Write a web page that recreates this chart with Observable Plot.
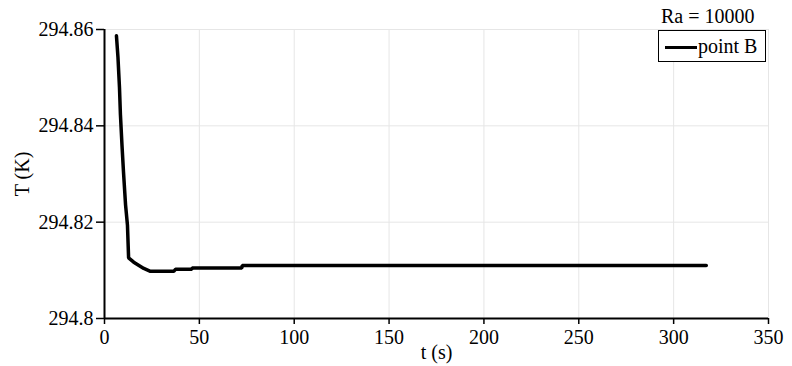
<!DOCTYPE html>
<html>
<head>
<meta charset="utf-8">
<script src="https://cdn.jsdelivr.net/npm/d3@7"></script>
<script src="https://cdn.jsdelivr.net/npm/@observablehq/plot@0.6"></script>
</head>
<body style="margin:0;padding:0;background:#fff;font-family:serif">
<div id="wrap" style="position:relative;width:792px;height:366px;font-family:serif">
  <div id="title" style="position:absolute;left:661px;top:4px;font-size:20px;line-height:24px;color:#000;font-family:'Times New Roman';z-index:2">Ra = 10000</div>
  <div id="legend" style="position:absolute;left:658px;top:30px;width:106px;height:30px;border:1.5px solid #000;background:#fff;z-index:2">
    <div style="position:absolute;left:6px;top:15px;width:32px;height:3px;background:#000"></div>
    <div id="lb" style="position:absolute;left:39px;top:3px;font-size:20px;line-height:24px;font-family:'Times New Roman';white-space:nowrap">point B</div>
  </div>
</div>
<script>
const seriesName = "point B";
const chartTitle = "Ra = 10000";
const tValues = [6.3, 7.1, 7.9, 8.4, 9.2, 10.0, 11.1, 12.1, 12.7, 15.4, 20.7, 24.2, 36.5, 37.4, 46.0, 46.2, 72.4, 72.6, 317.2];
const TValues = [294.8587, 294.8542, 294.8479, 294.8423, 294.8361, 294.8305, 294.8236, 294.8194, 294.8126, 294.8117, 294.8104, 294.8098, 294.8098, 294.8102, 294.8102, 294.8105, 294.8105, 294.8110, 294.8110];
const xTicks = [0, 50, 100, 150, 200, 250, 300, 350];
const yTicks = [294.8, 294.82, 294.84, 294.86];

const FONT = "Times New Roman";
const data = tValues.map((t, i) => ({t, T: TValues[i]}));

document.getElementById("title").textContent = chartTitle;
document.getElementById("lb").textContent = seriesName;

const chart = Plot.plot({
  width: 792,
  height: 366,
  marginLeft: 104,
  marginRight: 24,
  marginTop: 29,
  marginBottom: 48,
  style: {fontFamily: FONT, fontSize: "20px", color: "#000", background: "#fff"},
  x: {domain: [0, 350]},
  y: {domain: [294.8, 294.86]},
  marks: [
    Plot.gridX(xTicks, {stroke: "#e6e6e6", strokeOpacity: 1, strokeWidth: 1}),
    Plot.gridY(yTicks, {stroke: "#e6e6e6", strokeOpacity: 1, strokeWidth: 1}),
    Plot.axisX(xTicks, {tickSize: 6, tickPadding: 5, strokeWidth: 1.5, fill: "#000", fontFamily: FONT, label: "t (s)", labelAnchor: "center", labelArrow: "none", labelOffset: 40, tickFormat: d => String(d)}),
    Plot.axisY(yTicks, {tickSize: 8, tickPadding: 3, strokeWidth: 1.5, fill: "#000", fontFamily: FONT, label: "T (K)", labelAnchor: "center", labelArrow: "none", labelOffset: 90, tickFormat: d => String(+d.toFixed(2))}),
    Plot.ruleX([0], {stroke: "#000", strokeWidth: 2}),
    Plot.ruleY([294.8], {stroke: "#000", strokeWidth: 2}),
    Plot.line(data, {x: "t", y: "T", stroke: "#000", strokeWidth: 3.5, strokeLinejoin: "miter"})
  ]
});
chart.style.position = "absolute";
chart.style.left = "0px";
chart.style.top = "0px";
document.getElementById("wrap").appendChild(chart);
</script>
</body>
</html>
